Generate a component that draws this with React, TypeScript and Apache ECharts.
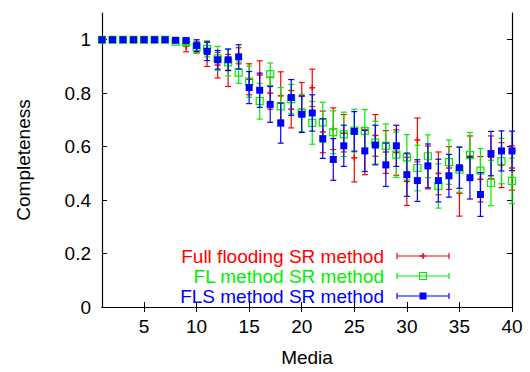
import React, { useEffect, useRef } from "react";
import * as echarts from "echarts";

const xValues = Array.from({ length: 40 }, (_, i) => i + 1);

const redMean = [1, 1, 1, 1, 1, 1, 1, 0.995, 0.975, 0.972, 0.945, 0.905, 0.885, 0.94, 0.852, 0.868, 0.8, 0.79, 0.74, 0.79, 0.82, 0.655, 0.667, 0.65, 0.558, 0.58, 0.642, 0.58, 0.578, 0.47, 0.625, 0.522, 0.5, 0.52, 0.426, 0.56, 0.478, 0.56, 0.531, 0.52];
const redErr = [0, 0, 0, 0, 0, 0, 0, 0.005, 0.02, 0.022, 0.045, 0.048, 0.06, 0.03, 0.058, 0.053, 0.06, 0.09, 0.07, 0.05, 0.07, 0.078, 0.078, 0.07, 0.09, 0.085, 0.078, 0.08, 0.085, 0.09, 0.082, 0.08, 0.08, 0.08, 0.086, 0.08, 0.085, 0.08, 0.084, 0.083];

const greenMean = [1, 1, 1, 1, 1, 1, 1, 0.993, 0.99, 0.972, 0.966, 0.93, 0.915, 0.877, 0.843, 0.77, 0.871, 0.751, 0.778, 0.726, 0.689, 0.691, 0.654, 0.646, 0.66, 0.659, 0.615, 0.603, 0.57, 0.56, 0.52, 0.564, 0.453, 0.542, 0.514, 0.568, 0.51, 0.464, 0.546, 0.472];
const greenErr = [0, 0, 0, 0, 0, 0, 0, 0.005, 0.008, 0.02, 0.03, 0.045, 0.05, 0.04, 0.058, 0.067, 0.042, 0.07, 0.055, 0.07, 0.08, 0.075, 0.08, 0.083, 0.08, 0.08, 0.08, 0.082, 0.085, 0.085, 0.085, 0.08, 0.083, 0.083, 0.085, 0.085, 0.083, 0.085, 0.085, 0.085];

const blueMean = [1, 1, 1, 1, 1, 1, 1, 0.998, 0.997, 0.978, 0.957, 0.925, 0.925, 0.936, 0.821, 0.811, 0.758, 0.688, 0.784, 0.721, 0.726, 0.63, 0.552, 0.603, 0.657, 0.584, 0.606, 0.532, 0.603, 0.495, 0.473, 0.528, 0.473, 0.491, 0.521, 0.484, 0.421, 0.574, 0.584, 0.584];
const blueErr = [0, 0, 0, 0, 0, 0, 0, 0.003, 0.003, 0.022, 0.035, 0.035, 0.04, 0.045, 0.06, 0.064, 0.067, 0.075, 0.067, 0.068, 0.068, 0.074, 0.078, 0.077, 0.074, 0.077, 0.074, 0.081, 0.077, 0.081, 0.078, 0.082, 0.08, 0.08, 0.077, 0.08, 0.082, 0.083, 0.075, 0.074];

const xTicks = [5, 10, 15, 20, 25, 30, 35, 40];
const yTicks = [0, 0.2, 0.4, 0.6, 0.8, 1];

const seriesNames = ["Full flooding SR method", "FL method SR method", "FLS method SR method"];
const seriesColors = ["#ff0000", "#00ee00", "#0000ff"];
const markerKinds = ["plus", "openSquare", "filledSquare"];

const FONT = "'Liberation Sans', Arial, Helvetica, sans-serif";

function markerShape(kind: string, cx: number, cy: number, color: string) {
  if (kind === "plus") {
    return [
      { type: "line", shape: { x1: cx - 3, y1: cy, x2: cx + 3, y2: cy }, style: { stroke: color, lineWidth: 1.5 } },
      { type: "line", shape: { x1: cx, y1: cy - 3, x2: cx, y2: cy + 3 }, style: { stroke: color, lineWidth: 1.5 } },
    ];
  }
  if (kind === "openSquare") {
    return [{ type: "rect", shape: { x: cx - 3.5, y: cy - 3.5, width: 7, height: 7 }, style: { fill: "none", stroke: color, lineWidth: 1.2 } }];
  }
  return [{ type: "rect", shape: { x: cx - 3.5, y: cy - 3.5, width: 7, height: 7 }, style: { fill: color } }];
}

function makeSeries(idx: number, means: number[], errs: number[]) {
  const color = seriesColors[idx];
  const kind = markerKinds[idx];
  const data = xValues.map((x, i) => [x, means[i], means[i] - errs[i], means[i] + errs[i]]);
  return {
    type: "custom",
    name: seriesNames[idx],
    clip: false,
    z: 2 + idx,
    data,
    renderItem: (params: any, api: any) => {
      const x = api.value(0);
      const m = api.value(1);
      const lo = api.value(2);
      const hi = api.value(3);
      const pm = api.coord([x, m]);
      const pl = api.coord([x, lo]);
      const ph = api.coord([x, hi]);
      const children: any[] = [];
      if (hi - lo > 0) {
        children.push({ type: "line", shape: { x1: pl[0], y1: pl[1], x2: ph[0], y2: ph[1] }, style: { stroke: color, lineWidth: 1.2 } });
        children.push({ type: "line", shape: { x1: pl[0] - 3, y1: pl[1], x2: pl[0] + 3, y2: pl[1] }, style: { stroke: color, lineWidth: 1.2 } });
        children.push({ type: "line", shape: { x1: ph[0] - 3, y1: ph[1], x2: ph[0] + 3, y2: ph[1] }, style: { stroke: color, lineWidth: 1.2 } });
      }
      children.push(...markerShape(kind, pm[0], pm[1], color));
      return { type: "group", children };
    },
  };
}

function legendGraphics() {
  const out: any[] = [];
  const textRight = 384;
  const lx1 = 397;
  const lx2 = 449;
  const ys = [256, 276, 296];
  seriesNames.forEach((name, i) => {
    const color = seriesColors[i];
    const y = ys[i];
    out.push({
      type: "text",
      x: textRight,
      y,
      style: { text: name, fill: color, font: `19px ${FONT}`, textAlign: "right", textVerticalAlign: "middle" },
    });
    out.push({ type: "line", shape: { x1: lx1, y1: y, x2: lx2, y2: y }, style: { stroke: color, lineWidth: 1.2 } });
    out.push({ type: "line", shape: { x1: lx1, y1: y - 3, x2: lx1, y2: y + 3 }, style: { stroke: color, lineWidth: 1.2 } });
    out.push({ type: "line", shape: { x1: lx2, y1: y - 3, x2: lx2, y2: y + 3 }, style: { stroke: color, lineWidth: 1.2 } });
    markerShape(markerKinds[i], (lx1 + lx2) / 2, y, color).forEach((m: any) => out.push(m));
  });
  return out;
}

export default function App() {
  const ref = useRef<HTMLDivElement>(null);
  useEffect(() => {
    if (!ref.current) return;
    const chart = echarts.init(ref.current, null, { renderer: "svg" });
    const axisLineStyle = { show: true, lineStyle: { color: "#000", width: 1.2 } };
    const labelStyle = { color: "#000", fontSize: 19, fontFamily: FONT };
    chart.setOption({
      animation: false,
      backgroundColor: "#fff",
      grid: { left: 102, right: 18, top: 13, bottom: 62 },
      xAxis: [
        {
          type: "value",
          min: 1,
          max: 40,
          position: "bottom",
          name: "Media",
          nameLocation: "middle",
          nameGap: 41,
          nameTextStyle: { color: "#000", fontSize: 19, fontFamily: FONT },
          axisLine: axisLineStyle,
          axisTick: { show: true, inside: true, length: 5, lineStyle: { color: "#000" }, customValues: xTicks },
          axisLabel: { ...labelStyle, margin: 10, customValues: xTicks },
          splitLine: { show: false },
        },
        {
          type: "value",
          min: 1,
          max: 40,
          position: "top",
          axisLine: axisLineStyle,
          axisTick: { show: true, inside: true, length: 5, lineStyle: { color: "#000" }, customValues: xTicks },
          axisLabel: { show: false },
          splitLine: { show: false },
        },
      ],
      yAxis: [
        {
          type: "value",
          min: 0,
          max: 1.1,
          position: "left",
          name: "Completeness",
          nameLocation: "middle",
          nameGap: 69,
          nameTextStyle: { color: "#000", fontSize: 19, fontFamily: FONT },
          axisLine: axisLineStyle,
          axisTick: { show: true, inside: true, length: 5, lineStyle: { color: "#000" }, customValues: yTicks },
          axisLabel: { ...labelStyle, margin: 11, customValues: yTicks, formatter: (v: number) => String(Math.round(v * 10) / 10) },
          splitLine: { show: false },
        },
        {
          type: "value",
          min: 0,
          max: 1.1,
          position: "right",
          axisLine: axisLineStyle,
          axisTick: { show: true, inside: true, length: 5, lineStyle: { color: "#000" }, customValues: yTicks },
          axisLabel: { show: false },
          splitLine: { show: false },
        },
      ],
      graphic: legendGraphics(),
      series: [
        makeSeries(0, redMean, redErr),
        makeSeries(1, greenMean, greenErr),
        makeSeries(2, blueMean, blueErr),
      ],
    });
    return () => chart.dispose();
  }, []);
  return <div ref={ref} style={{ width: 530, height: 372, position: "absolute", left: 0, top: 0 }} />;
}
